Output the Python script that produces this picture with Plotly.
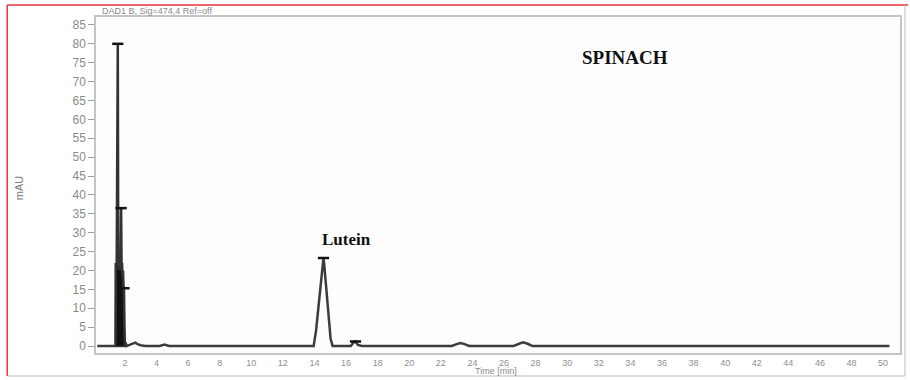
import plotly.graph_objects as go

# Solvent-front cluster (time in min, absorbance in mAU)
front_time = [1.40, 1.42, 1.45, 1.48, 1.50, 1.52, 1.55, 1.58, 1.61, 1.64, 1.67, 1.70,
              1.73, 1.76, 1.79, 1.82, 1.85, 1.88, 1.91, 1.94, 1.97, 2.00]
front_mau = [0.0, 22.0, 20.0, 22.0, 68.0, 40.0, 80.0, 22.0, 21.0, 22.0, 20.0, 24.0,
             21.0, 36.5, 20.0, 22.0, 18.0, 20.0, 16.0, 15.3, 6.0, 0.0]

# Remainder of the chromatogram
time_min = [0.25, 1.00, 1.40, 2.00, 2.04, 2.10, 2.30, 2.50, 2.65, 2.80, 3.00, 3.30,
            4.20, 4.50, 4.80, 6.00, 8.00, 10.00, 12.00, 13.95, 14.10, 14.25, 14.40,
            14.52, 14.57, 14.62, 14.74, 14.88, 15.02, 15.15, 16.30, 16.45, 16.60, 16.75,
            17.00, 20.00, 22.70, 23.00, 23.25, 23.50, 23.80, 26.60, 26.90, 27.20, 27.50,
            27.80, 30.00, 35.50, 36.00, 36.50, 44.00, 44.40, 44.80, 50.40]
signal_mau = [0.0, 0.0, 0.0, 0.0, 1.0, 0.0, 0.3, 0.6, 0.9, 0.5, 0.2, 0.0,
              0.0, 0.4, 0.0, 0.0, 0.0, 0.0, 0.0, 0.0, 4.0, 10.0, 16.0,
              21.5, 23.3, 21.5, 15.0, 8.0, 2.0, 0.0, 0.0, 0.8, 1.2, 0.3,
              0.0, 0.0, 0.0, 0.5, 0.8, 0.5, 0.0, 0.0, 0.6, 1.0, 0.6,
              0.0, 0.0, 0.0, 0.15, 0.0, 0.0, 0.15, 0.0, 0.0]

# Integrated peak apexes
apex_time = [1.55, 1.76, 1.94, 14.57, 16.60]
apex_mau = [80.0, 36.5, 15.3, 23.3, 1.2]

y_ticks = list(range(0, 90, 5))
x_ticks = list(range(2, 52, 2))

fig = go.Figure()

fig.add_trace(go.Scatter(
    x=time_min, y=signal_mau, mode="lines",
    line=dict(color="#3c3c3c", width=2.5),
    hoverinfo="skip", showlegend=False,
))
fig.add_trace(go.Scatter(
    x=front_time, y=front_mau, mode="lines", fill="tozeroy",
    fillcolor="#111111", line=dict(color="#333333", width=2.5),
    hoverinfo="skip", showlegend=False,
))
fig.add_trace(go.Scatter(
    x=apex_time, y=apex_mau, mode="markers",
    marker=dict(symbol="line-ew", size=8, line=dict(color="#111111", width=2.5)),
    hoverinfo="skip", showlegend=False,
))

L, R, T, B = 96, 8, 17, 27
W, H = 910, 380
pw, ph = W - L - R, H - T - B


def px(x):
    return (x - L) / pw


def py(y):
    return (H - B - y) / ph


shapes = [
    # outer border: red on top/left, grey on bottom/right
    dict(type="line", xref="paper", yref="paper", x0=px(7), x1=px(910), y0=py(5), y1=py(5),
         line=dict(color="#e8323a", width=1.5)),
    dict(type="line", xref="paper", yref="paper", x0=px(7), x1=px(7), y0=py(5), y1=py(376),
         line=dict(color="#e8323a", width=1.5)),
    dict(type="line", xref="paper", yref="paper", x0=px(7), x1=px(907), y0=py(376), y1=py(376),
         line=dict(color="#bdbdbd", width=1)),
    dict(type="line", xref="paper", yref="paper", x0=px(907), x1=px(907), y0=py(5), y1=py(376),
         line=dict(color="#bdbdbd", width=1)),
]

annotations = [
    dict(text="DAD1 B, Sig=474,4 Ref=off", xref="paper", yref="paper",
         x=px(100), y=py(11), xanchor="left", yanchor="middle", showarrow=False,
         font=dict(family="Liberation Sans, Arial", size=9, color="#8a8a8a")),
    dict(text="mAU", xref="paper", yref="paper", x=px(19), y=py(188),
         textangle=-90, showarrow=False, xanchor="center", yanchor="middle",
         font=dict(family="Liberation Sans, Arial", size=11, color="#7a7a7a")),
    dict(text="Time [min]", xref="paper", yref="paper", x=px(497), y=py(371),
         showarrow=False, xanchor="center", yanchor="middle",
         font=dict(family="Liberation Sans, Arial", size=9, color="#8a8a8a")),
    dict(text="<b>SPINACH</b>", xref="paper", yref="paper", x=px(626), y=py(57),
         showarrow=False, xanchor="center", yanchor="middle",
         font=dict(family="Liberation Serif, Times New Roman", size=19, color="#111111")),
    dict(text="<b>Lutein</b>", xref="paper", yref="paper", x=px(347), y=py(239),
         showarrow=False, xanchor="center", yanchor="middle",
         font=dict(family="Liberation Serif, Times New Roman", size=17, color="#111111")),
]

fig.update_layout(
    width=W, height=H,
    margin=dict(l=L, r=R, t=T, b=B),
    paper_bgcolor="#ffffff",
    plot_bgcolor="#fdfdfe",
    shapes=shapes,
    annotations=annotations,
    xaxis=dict(
        range=[0.17, 51.07], tickvals=x_ticks, ticktext=[str(v) for v in x_ticks],
        showgrid=False, zeroline=False, showline=True, mirror=True,
        linecolor="#c4c4c4", linewidth=1.5, ticks="",
        tickfont=dict(family="Liberation Sans, Arial", size=9, color="#8f8f8f"),
    ),
    yaxis=dict(
        range=[-1.85, 87.1], tickvals=y_ticks, ticktext=[str(v) for v in y_ticks],
        showgrid=False, zeroline=False, showline=True, mirror=True,
        linecolor="#c4c4c4", linewidth=1.5, ticks="outside", ticklen=6,
        tickcolor="#a0a0a0", tickwidth=1,
        tickfont=dict(family="Liberation Sans, Arial", size=12, color="#8a8a8a"),
    ),
)

fig.write_html("out.html")
